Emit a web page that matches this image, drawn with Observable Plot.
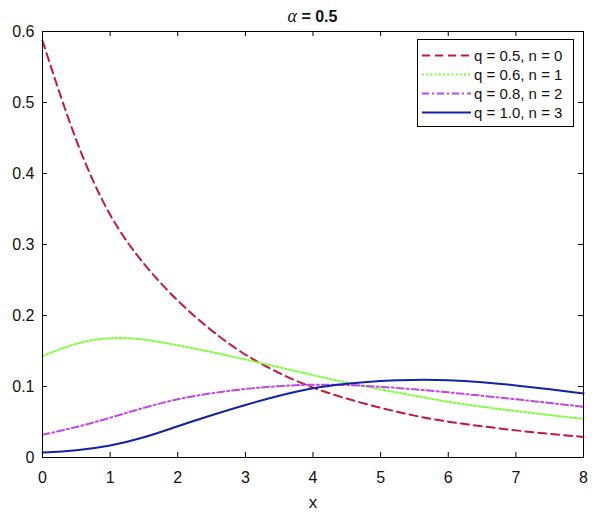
<!DOCTYPE html>
<html><head><meta charset="utf-8">
<script src="https://cdn.jsdelivr.net/npm/d3@7"></script>
<script src="https://cdn.jsdelivr.net/npm/@observablehq/plot@0.6"></script>
<style>
body{margin:0;background:#fff;}
#wrap{position:relative;width:597px;height:516px;font-family:"Liberation Sans",Arial,sans-serif;}
#legend{position:absolute;left:417px;top:39px;width:157px;height:88px;box-sizing:border-box;border:1px solid #000;background:#fff;}
.row{position:absolute;left:0;height:19px;width:155px;}
.row svg{position:absolute;left:3px;top:0;}
.row span{position:absolute;left:56px;top:0;line-height:19px;font-size:15px;color:#111;white-space:nowrap;}
</style></head>
<body><div id="wrap"></div>
<script>
const xs     = [0, 0.5, 1, 1.5, 2, 2.5, 3, 3.5, 4, 4.5, 5, 5.5, 6, 6.5, 7, 7.5, 8];
const redY   = [0.587, 0.447, 0.342, 0.273, 0.221, 0.179, 0.145, 0.119, 0.0985, 0.083, 0.070, 0.059, 0.0505, 0.044, 0.0382, 0.0333, 0.029];
const greenY = [0.143, 0.160, 0.168, 0.166, 0.158, 0.1485, 0.138, 0.127, 0.116, 0.1055, 0.096, 0.087, 0.0785, 0.0715, 0.0655, 0.0598, 0.0543];
const magY   = [0.032, 0.043, 0.056, 0.070, 0.082, 0.0905, 0.0965, 0.1005, 0.1025, 0.102, 0.0995, 0.096, 0.0918, 0.087, 0.082, 0.0768, 0.0715];
const blueY  = [0.007, 0.0103, 0.017, 0.0285, 0.044, 0.0595, 0.074, 0.087, 0.0975, 0.104, 0.1078, 0.1093, 0.1088, 0.106, 0.1015, 0.096, 0.090];

const seriesNames = ["q = 0.5, n = 0", "q = 0.6, n = 1", "q = 0.8, n = 2", "q = 1.0, n = 3"];
const seriesVals  = [redY, greenY, magY, blueY];
const colors = ["#c8163f", "#7cff3a", "#bf45ec", "#1222a6"];
const dashes = ["8,5", "2,2.2", "7,3,2,3", null];

const xTicks = [0, 1, 2, 3, 4, 5, 6, 7, 8];
const yTicks = [0, 0.1, 0.2, 0.3, 0.4, 0.5, 0.6];
const yTickLabels = ["0", "0.1", "0.2", "0.3", "0.4", "0.5", "0.6"];

const W = 597, H = 516, mL = 42, mR = 14, mT = 31, mB = 59;
const plotW = W - mL - mR, plotH = H - mT - mB, tk = 5;

const rows = [];
seriesVals.forEach((arr, i) => arr.forEach((v, j) => rows.push({x: xs[j], y: v, s: i})));

const marks = [];
seriesVals.forEach((arr, i) => {
  marks.push(Plot.line(rows.filter(d => d.s === i), {
    x: "x", y: "y", stroke: colors[i], strokeWidth: 2,
    strokeDasharray: dashes[i] || undefined, curve: "natural"
  }));
});

const chart = Plot.plot({
  width: W, height: H,
  marginLeft: mL, marginRight: mR, marginTop: mT, marginBottom: mB,
  style: {fontFamily: '"Liberation Sans", Arial, sans-serif', fontSize: "16px", color: "#111", background: "#fff"},
  x: {domain: [0, 8]},
  y: {domain: [0, 0.6]},
  marks: [
    ...marks,
    Plot.frame({stroke: "#000", strokeWidth: 1}),
    Plot.tickX(xTicks, {x: d => d, insetTop: plotH - tk, stroke: "#000"}),
    Plot.tickX(xTicks, {x: d => d, insetBottom: plotH - tk, stroke: "#000"}),
    Plot.tickY(yTicks, {y: d => d, insetRight: plotW - tk, stroke: "#000"}),
    Plot.tickY(yTicks, {y: d => d, insetLeft: plotW - tk, stroke: "#000"}),
    Plot.axisX({ticks: xTicks, tickSize: 0, tickPadding: 14, tickFormat: d => String(d), label: null, fontSize: 16}),
    Plot.axisY({ticks: yTicks, tickSize: 0, tickPadding: 8, tickFormat: d => yTickLabels[yTicks.indexOf(d)], label: null, fontSize: 16}),
    Plot.text(["x"], {frameAnchor: "bottom", lineAnchor: "bottom", dy: 50, text: d => d, fontSize: 17, fill: "#111"})
  ]
});

const wrap = document.getElementById("wrap");
wrap.appendChild(chart);

// title
const t = d3.select(chart).append("text")
  .attr("x", mL + plotW / 2).attr("y", 21.7)
  .attr("text-anchor", "middle").attr("fill", "#111");
t.append("tspan").attr("font-family", '"Liberation Serif", "DejaVu Serif", serif')
  .attr("font-style", "italic").attr("font-size", 18).text("α");
t.append("tspan").attr("font-weight", "bold").attr("font-size", 16).text(" = 0.5");

// legend
const leg = document.createElement("div");
leg.id = "legend";
const rowTops = [5.5, 24.5, 43.8, 63.2];
seriesNames.forEach((name, i) => {
  const r = document.createElement("div");
  r.className = "row";
  r.style.top = rowTops[i] + "px";
  const ns = "http://www.w3.org/2000/svg";
  const s = document.createElementNS(ns, "svg");
  s.setAttribute("width", 50); s.setAttribute("height", 19);
  const ln = document.createElementNS(ns, "line");
  ln.setAttribute("x1", 1); ln.setAttribute("x2", 50);
  ln.setAttribute("y1", 9.5); ln.setAttribute("y2", 9.5);
  ln.setAttribute("stroke", colors[i]); ln.setAttribute("stroke-width", 2);
  if (dashes[i]) ln.setAttribute("stroke-dasharray", dashes[i]);
  s.appendChild(ln);
  r.appendChild(s);
  const sp = document.createElement("span");
  sp.textContent = name;
  r.appendChild(sp);
  leg.appendChild(r);
});
wrap.appendChild(leg);
</script>
</body></html>
